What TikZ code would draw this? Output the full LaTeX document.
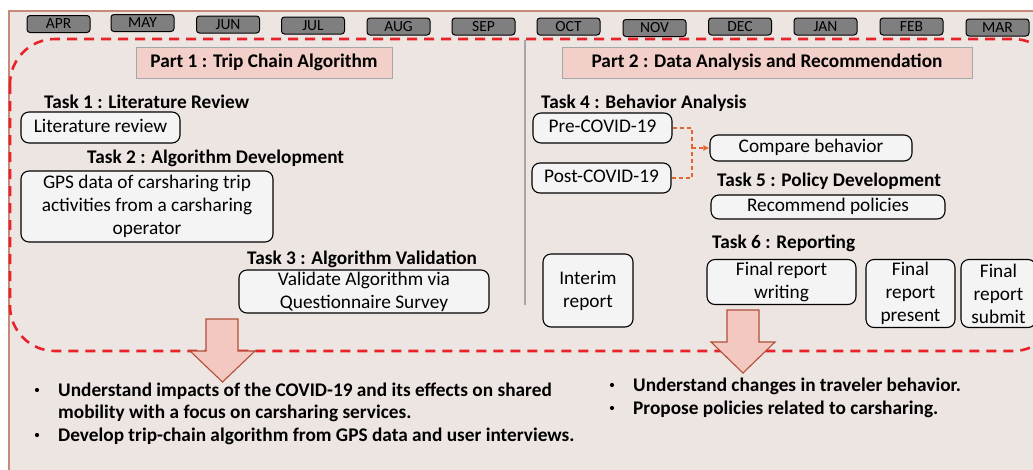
\documentclass[tikz,border=0pt]{standalone}
\usepackage{fontspec}
\setmainfont{Carlito}
\usetikzlibrary{arrows.meta}

\definecolor{bgc}{HTML}{EDE5E2}
\definecolor{framec}{HTML}{C88A78}
\definecolor{monthfill}{HTML}{7F7F7F}
\definecolor{partfill}{HTML}{F2CFC9}
\definecolor{partdraw}{HTML}{A6A6A6}
\definecolor{boxfill}{HTML}{F4F4F4}
\definecolor{dashred}{HTML}{E82228}
\definecolor{linkc}{HTML}{E2642E}
\definecolor{arrowfill}{HTML}{F3C8C0}
\definecolor{arrowdraw}{HTML}{B24E36}
\definecolor{divc}{HTML}{A6A6A6}

\tikzset{
  month/.style={draw=black, fill=monthfill, rounded corners=3pt, line width=1pt,
    minimum width=63pt, minimum height=17pt, inner sep=0pt,
    font=\fontsize{15.5}{15.5}\selectfont, text=black},
  partbox/.style={draw=partdraw, fill=partfill, line width=0.8pt, inner sep=0pt,
    font=\fontsize{19.3}{23}\selectfont\bfseries},
  taskbox/.style={draw=black, fill=boxfill, rounded corners=8pt, line width=1.1pt,
    inner sep=0pt, align=center, font=\fontsize{19.3}{23}\selectfont},
  oneline/.style={text height=12.5pt, text depth=3.5pt},
  heading/.style={anchor=base west, inner sep=0pt, font=\fontsize{19.3}{23}\selectfont\bfseries},
  bullettext/.style={anchor=base west, inner sep=0pt, font=\fontsize{19.3}{23}\selectfont\bfseries},
  dot/.style={circle, fill=black, inner sep=0pt, minimum size=4.2pt},
  link/.style={draw=linkc, line width=1.4pt, dash pattern=on 4pt off 3pt},
  bigarrow/.style={fill=arrowfill, draw=arrowdraw, line width=1.1pt, line join=miter},
}

\begin{document}
\begin{tikzpicture}[x=1pt, y=-1pt]
  \useasboundingbox (0,0) rectangle (1033,469);
  \clip (0,0) rectangle (1033,469);

  % page background and frame
  \fill[white] (0,0) rectangle (1033,469);
  \draw[framec, fill=bgc, line width=1.4pt] (9,11) rectangle (1045,480);

  % month bar
  \node[month] (apr) at (58.5,24)   {APR};
  \node[month] (may) at (142.5,23)  {MAY};
  \node[month] (jun) at (228,24.5)  {JUN};
  \node[month] (jul) at (313,25.5)  {JUL};
  \node[month] (aug) at (398.5,26.5) {AUG};
  \node[month] (sep) at (483.5,26.5) {SEP};
  \node[month] (oct) at (568.5,26.5) {OCT};
  \node[month] (nov) at (654.5,28)  {NOV};
  \node[month] (dec) at (740,26.5)  {DEC};
  \node[month] (jan) at (825.5,26.5) {JAN};
  \node[month] (feb) at (911.5,26.5) {FEB};
  \node[month] (mar) at (997.5,27.5) {MAR};

  % dashed outline around both parts
  \draw[dashred, line width=2.6pt, dash pattern=on 10pt off 7pt, rounded corners=45pt]
    (10,39) rectangle (1058,351);

  % divider between the two parts
  \draw[divc, line width=1.4pt] (525,40) -- (525,305);

  % part titles
  \node[partbox, minimum width=256pt, minimum height=31pt] (p1) at (264,62.5) {Part 1 : Trip Chain Algorithm};
  \node[partbox, minimum width=410pt, minimum height=31pt] (p2) at (767,62.5) {Part 2 : Data Analysis and Recommendation};

  % part 1
  \node[heading] (t1) at (44,108) {Task 1 : Literature Review};
  \node[taskbox, oneline, minimum width=159pt, minimum height=31pt] (lit) at (100.5,127.5) {Literature review};

  \node[heading] (t2) at (87,163) {Task 2 : Algorithm Development};
  \node[taskbox, minimum width=252pt, minimum height=71pt] (gps) at (147,206.5)
    {GPS data of carsharing trip\\activities from a carsharing\\operator};

  \node[heading] (t3) at (247,264) {Task 3 : Algorithm Validation};
  \node[taskbox, minimum width=250pt, minimum height=43pt] (val) at (364,291.5)
    {Validate Algorithm via\\Questionnaire Survey};

  % part 2
  \node[heading] (t4) at (541,108) {Task 4 : Behavior Analysis};
  \node[taskbox, oneline, minimum width=139pt, minimum height=30pt] (pre) at (602.5,128) {Pre-COVID-19};
  \node[taskbox, oneline, minimum width=139pt, minimum height=30pt] (post) at (601.5,178) {Post-COVID-19};
  \node[taskbox, oneline, minimum width=202pt, minimum height=26pt] (cmp) at (811,148) {Compare behavior};

  \coordinate (join) at (692,148);
  \draw[link] (pre.east) -| (join);
  \draw[link] (post.east) -| (join);
  \draw[link, -{Latex[length=6pt,width=6pt]}] (join) -- (cmp.west);

  \node[heading] (t5) at (717,186) {Task 5 : Policy Development};
  \node[taskbox, oneline, minimum width=234pt, minimum height=24pt] (rec) at (828,207) {Recommend policies};

  \node[heading] (t6) at (712,248) {Task 6 : Reporting};
  \node[taskbox, minimum width=90pt, minimum height=73pt] (interim) at (588,290.5) {Interim\\report};
  \node[taskbox, minimum width=149pt, minimum height=45pt] (frw) at (781.5,282) {Final report\\writing};
  \node[taskbox, minimum width=89pt, minimum height=68pt] (frp) at (910.5,293.5) {Final\\report\\present};
  \node[taskbox, minimum width=75pt, minimum height=68pt] (frs) at (998.5,293.5) {Final\\report\\submit};

  % block arrows leading to the outcomes
  \draw[bigarrow] (206,319) -- (238,319) -- (238,351) -- (255,351) -- (222.5,382)
    -- (190,351) -- (206,351) -- cycle;
  \draw[bigarrow] (727,310) -- (759,310) -- (759,342) -- (775,342) -- (743,373)
    -- (711,342) -- (727,342) -- cycle;

  % outcomes of part 1
  \node[dot] (b1) at (37,390) {};
  \node[bullettext] (o1) at (58,396) {Understand impacts of the COVID-19 and its effects on shared};
  \node[bullettext] (o1b) at (58,418) {mobility with a focus on carsharing services.};
  \node[dot] (b2) at (37,435) {};
  \node[bullettext] (o2) at (58,441) {Develop trip-chain algorithm from GPS data and user interviews.};

  % outcomes of part 2
  \node[dot] (b3) at (612,385) {};
  \node[bullettext] (o3) at (633,391) {Understand changes in traveler behavior.};
  \node[dot] (b4) at (612,408) {};
  \node[bullettext] (o4) at (633,414) {Propose policies related to carsharing.};
\end{tikzpicture}
\end{document}
